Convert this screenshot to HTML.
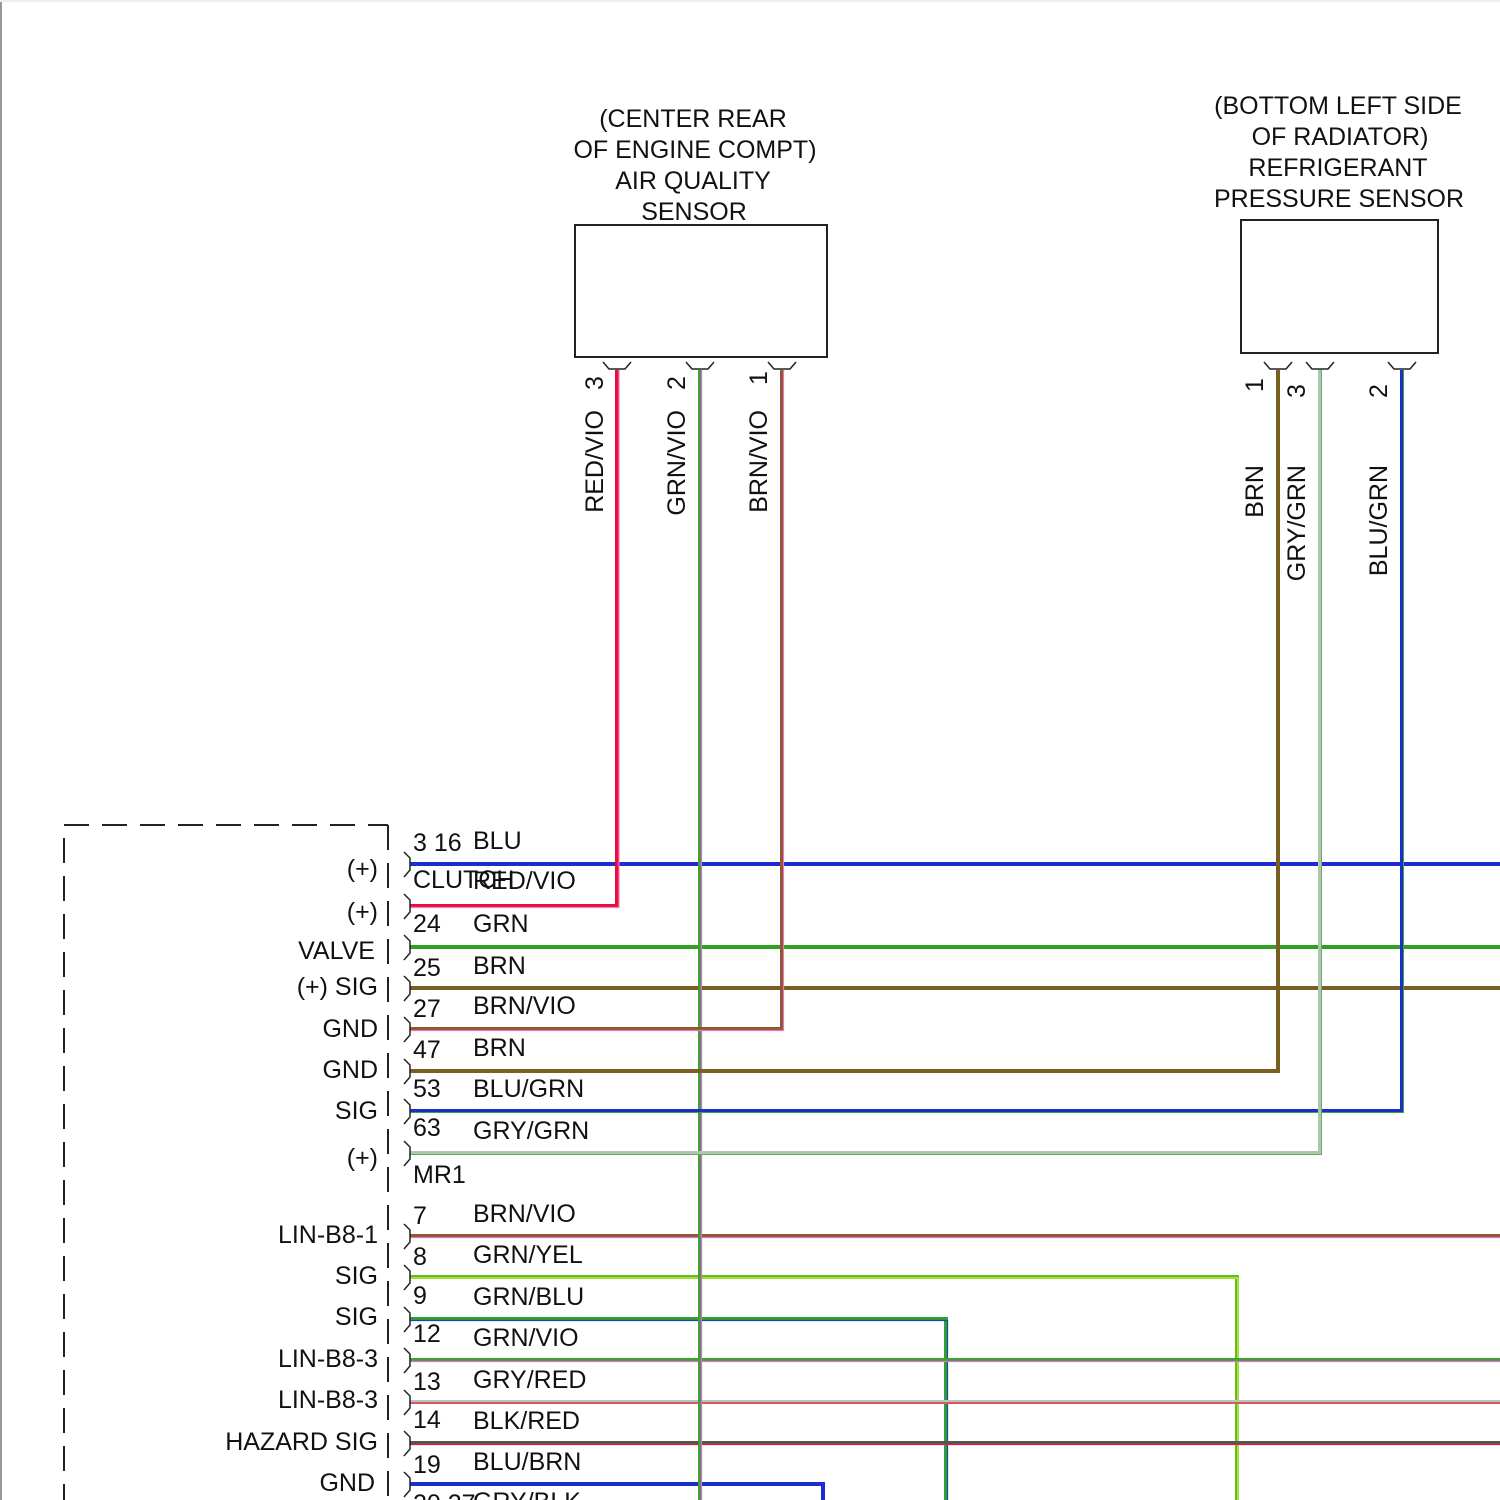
<!DOCTYPE html>
<html><head><meta charset="utf-8"><style>
html,body{margin:0;padding:0;background:#fff;}
svg{display:block;}
text{font-family:"Liberation Sans",Arial,sans-serif;font-size:25px;fill:#111;}
</style></head><body>
<svg width="1500" height="1500" viewBox="0 0 1500 1500" xmlns="http://www.w3.org/2000/svg">
<rect x="0" y="0" width="1500" height="1500" fill="#fff"/>
<line x1="1" y1="0" x2="1" y2="1500" stroke="#999" stroke-width="2"/>
<line x1="0" y1="1" x2="1500" y2="1" stroke="#eee" stroke-width="2"/>

<g text-anchor="middle">
<text x="693" y="127">(CENTER REAR</text>
<text x="695" y="158">OF ENGINE COMPT)</text>
<text x="693" y="189">AIR QUALITY</text>
<text x="694" y="220">SENSOR</text>
<text x="1338" y="114">(BOTTOM LEFT SIDE</text>
<text x="1340" y="145">OF RADIATOR)</text>
<text x="1338" y="176">REFRIGERANT</text>
<text x="1339" y="207">PRESSURE SENSOR</text>
</g>
<rect x="575" y="225" width="252" height="132" fill="none" stroke="#222" stroke-width="2"/>
<rect x="1241" y="220" width="197" height="133" fill="none" stroke="#222" stroke-width="2"/>

<g fill="none" stroke="#222" stroke-width="1.5">
<path d="M603,362 L609,369 L625,369 L631,362"/>
<path d="M686,362 L692,369 L708,369 L714,362"/>
<path d="M768,362 L774,369 L790,369 L796,362"/>
<path d="M1264,362 L1270,369 L1286,369 L1292,362"/>
<path d="M1306,362 L1312,369 L1328,369 L1334,362"/>
<path d="M1388,362 L1394,369 L1410,369 L1416,362"/>
</g>

<g>
<text transform="translate(603,390) rotate(-90)">3</text>
<text transform="translate(603,410) rotate(-90)" text-anchor="end">RED/VIO</text>
<text transform="translate(685,390) rotate(-90)">2</text>
<text transform="translate(685,410) rotate(-90)" text-anchor="end">GRN/VIO</text>
<text transform="translate(767,385) rotate(-90)">1</text>
<text transform="translate(767,410) rotate(-90)" text-anchor="end">BRN/VIO</text>
<text transform="translate(1263,392) rotate(-90)">1</text>
<text transform="translate(1263,465) rotate(-90)" text-anchor="end">BRN</text>
<text transform="translate(1305,398) rotate(-90)">3</text>
<text transform="translate(1305,465) rotate(-90)" text-anchor="end">GRY/GRN</text>
<text transform="translate(1387,398) rotate(-90)">2</text>
<text transform="translate(1387,465) rotate(-90)" text-anchor="end">BLU/GRN</text>
</g>

<g fill="none" stroke-linejoin="miter">
<path d="M410,864 H1500" stroke="#1a2ed0" stroke-width="4"/>
<path d="M410,947 H1500" stroke="#30a020" stroke-width="4"/>
<path d="M410,988 H1500" stroke="#7a6020" stroke-width="4"/>
<path d="M410,1236 H1500" stroke="#8a5a2a" stroke-width="4"/>
<path d="M410,1237.5 H1500" stroke="#e070d0" stroke-width="1.2"/>
<path d="M410,1277 H1237 V1500" stroke="#60c020" stroke-width="4"/>
<path d="M410,1278 H1238 V1500" stroke="#d0f040" stroke-width="1.3"/>
<path d="M410,1319 H946 V1500" stroke="#30a030" stroke-width="4"/>
<path d="M410,1320.5 H947.5 V1500" stroke="#2040b0" stroke-width="1.2"/>
<path d="M410,1360 H1500" stroke="#40a030" stroke-width="4"/>
<path d="M410,1361.5 H1500" stroke="#e070e0" stroke-width="1.2"/>
<path d="M410,1402 H1500" stroke="#c0c0c0" stroke-width="4"/>
<path d="M410,1403 H1500" stroke="#e02020" stroke-width="1.2"/>
<path d="M410,1443 H1500" stroke="#555" stroke-width="4"/>
<path d="M410,1444.5 H1500" stroke="#e02030" stroke-width="1.2"/>
<path d="M410,1484 H823 V1500" stroke="#1a2ed0" stroke-width="4"/>
<path d="M617,370 V906 H410" stroke="#e8103a" stroke-width="4"/>
<path d="M619,370 V907.5 H410" stroke="#f080c0" stroke-width="1.2"/>
<path d="M700,370 V1500" stroke="#40a030" stroke-width="4"/>
<path d="M701.5,370 V1500" stroke="#d070e0" stroke-width="1.3"/>
<path d="M782,370 V1029 H410" stroke="#8a5a2a" stroke-width="4"/>
<path d="M783.5,370 V1030.5 H410" stroke="#f070d0" stroke-width="1.2"/>
<path d="M1278,370 V1071 H410" stroke="#7a6020" stroke-width="4"/>
<path d="M1402,370 V1111 H410" stroke="#1a2ed0" stroke-width="4"/>
<path d="M1403.5,370 V1112.5 H410" stroke="#40a040" stroke-width="1"/>
<path d="M1320,370 V1153 H410" stroke="#b0c4b0" stroke-width="4"/>
<path d="M1321.5,370 V1154.5 H410" stroke="#60b060" stroke-width="1"/>
</g>

<g stroke="#222" stroke-width="2" fill="none">
<path d="M64,825 H388" stroke-dasharray="25,13"/>
<path d="M64,825 V1500" stroke-dasharray="25,13" stroke-dashoffset="-13"/>
<path d="M388,825 V1500" stroke-dasharray="25,13"/>
</g>

<g fill="none" stroke="#222" stroke-width="1.5">
<path d="M404,852 L410,858 V870 L404,877"/>
<path d="M404,894 L410,900 V912 L404,919"/>
<path d="M404,935 L410,941 V953 L404,960"/>
<path d="M404,976 L410,982 V994 L404,1001"/>
<path d="M404,1017 L410,1023 V1035 L404,1042"/>
<path d="M404,1059 L410,1065 V1077 L404,1084"/>
<path d="M404,1099 L410,1105 V1117 L404,1124"/>
<path d="M404,1141 L410,1147 V1159 L404,1166"/>
<path d="M404,1224 L410,1230 V1242 L404,1249"/>
<path d="M404,1265 L410,1271 V1283 L404,1290"/>
<path d="M404,1307 L410,1313 V1325 L404,1332"/>
<path d="M404,1348 L410,1354 V1366 L404,1373"/>
<path d="M404,1390 L410,1396 V1408 L404,1415"/>
<path d="M404,1431 L410,1437 V1449 L404,1456"/>
<path d="M404,1472 L410,1478 V1490 L404,1497"/>
</g>

<g>
<text x="413" y="851">3 16</text><text x="473" y="849">BLU</text>
<text x="413" y="888">CLUTCH</text><text x="473" y="889">RED/VIO</text>
<text x="413" y="932">24</text><text x="473" y="932">GRN</text>
<text x="413" y="976">25</text><text x="473" y="974">BRN</text>
<text x="413" y="1017">27</text><text x="473" y="1014">BRN/VIO</text>
<text x="413" y="1058">47</text><text x="473" y="1056">BRN</text>
<text x="413" y="1097">53</text><text x="473" y="1097">BLU/GRN</text>
<text x="413" y="1136">63</text><text x="473" y="1139">GRY/GRN</text>
<text x="413" y="1183">MR1</text>
<text x="413" y="1224">7</text><text x="473" y="1222">BRN/VIO</text>
<text x="413" y="1265">8</text><text x="473" y="1263">GRN/YEL</text>
<text x="413" y="1304">9</text><text x="473" y="1305">GRN/BLU</text>
<text x="413" y="1342">12</text><text x="473" y="1346">GRN/VIO</text>
<text x="413" y="1390">13</text><text x="473" y="1388">GRY/RED</text>
<text x="413" y="1428">14</text><text x="473" y="1429">BLK/RED</text>
<text x="413" y="1473">19</text><text x="473" y="1470">BLU/BRN</text>
<text x="413" y="1512">20 27</text><text x="473" y="1510">GRY/BLK</text>
</g>

<g text-anchor="end">
<text x="378" y="877">(+)</text>
<text x="378" y="920">(+)</text>
<text x="375" y="959">VALVE</text>
<text x="378" y="995">(+) SIG</text>
<text x="378" y="1037">GND</text>
<text x="378" y="1078">GND</text>
<text x="378" y="1119">SIG</text>
<text x="378" y="1166">(+)</text>
<text x="378" y="1243">LIN-B8-1</text>
<text x="378" y="1284">SIG</text>
<text x="378" y="1325">SIG</text>
<text x="378" y="1367">LIN-B8-3</text>
<text x="378" y="1408">LIN-B8-3</text>
<text x="378" y="1450">HAZARD SIG</text>
<text x="375" y="1491">GND</text>
</g>
</svg>
</body></html>
